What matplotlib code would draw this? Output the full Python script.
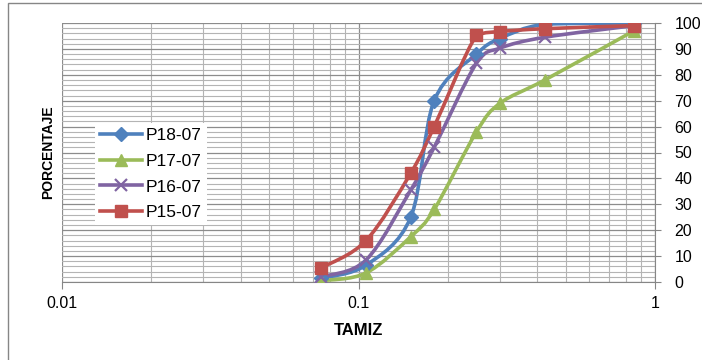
import matplotlib
matplotlib.use("Agg")
import matplotlib.pyplot as plt
import numpy as np
from matplotlib.path import Path
from matplotlib.patches import PathPatch, Rectangle
from matplotlib.lines import Line2D
from matplotlib.ticker import FixedLocator, LogLocator, MultipleLocator, NullFormatter, FuncFormatter

# %% Data (sieve size vs. percent passing).
tamiz = [0.075, 0.106, 0.15, 0.18, 0.25, 0.3, 0.425, 0.85]
p18_07 = [1.5, 6.5, 25, 70, 88, 94, 99.5, 100]
p17_07 = [0.5, 3.5, 17.5, 28, 58, 69, 78, 97]
p16_07 = [2, 8.5, 35.5, 52, 84.5, 90.3, 94.5, 99]
p15_07 = [5.5, 16, 42, 60, 95.3, 96.7, 97.8, 99]

series = [
    ("P18-07", p18_07, "#4F81BD", "D", 7),
    ("P17-07", p17_07, "#9BBB59", "^", 8.5),
    ("P16-07", p16_07, "#8064A2", "x", 8),
    ("P15-07", p15_07, "#C0504D", "s", 8.5),
]

plt.rcParams['font.family'] = ['Liberation Sans', 'DejaVu Sans']


def smooth_path(xs, ys):
    # smoothed line like Excel: cubic Bezier through the points, in log-x space
    lx = np.log10(xs)
    pts = np.column_stack([lx, ys])
    verts = [pts[0]]
    codes = [Path.MOVETO]
    n = len(pts)
    for i in range(n - 1):
        p0 = pts[max(i - 1, 0)]
        p1 = pts[i]
        p2 = pts[i + 1]
        p3 = pts[min(i + 2, n - 1)]
        c1 = p1 + (p2 - p0) / 6
        c2 = p2 - (p3 - p1) / 6
        # keep control points inside the segment's y range (no overshoot)
        lo, hi = min(p1[1], p2[1]), max(p1[1], p2[1])
        c1[1] = np.clip(c1[1], lo, hi)
        c2[1] = np.clip(c2[1], lo, hi)
        verts.extend([c1, c2, p2])
        codes.extend([Path.CURVE4] * 3)
    verts = np.array(verts)
    verts[:, 0] = 10 ** verts[:, 0]
    return Path(verts, codes)


# %% Figure.
fig = plt.figure(figsize=(7.02, 3.60), dpi=100)
ax = fig.add_axes([62 / 702, 1 - 282 / 360, 593 / 702, 259 / 360])

fig.add_artist(Rectangle((8 / 702, -0.5), 2, 0.5 + 1 - 3 / 360, transform=fig.transFigure,
                         fill=False, edgecolor='#868686', linewidth=1.0))

ax.set_xscale('log')
ax.set_xlim(0.01, 1)
ax.set_ylim(0, 100)

handles = []
for name, vals, color, marker, ms in series:
    ax.add_patch(PathPatch(smooth_path(tamiz, vals), facecolor='none', edgecolor=color,
                           linewidth=2.6, zorder=3, capstyle='round', joinstyle='round'))
    mew = 1.6 if marker == 'x' else 1.0
    ax.plot(tamiz, vals, linestyle='none', marker=marker, markersize=ms, color=color,
            markeredgewidth=mew, zorder=4)
    handles.append(Line2D([], [], color=color, linewidth=2.6, marker=marker, markersize=ms,
                          markeredgewidth=mew))

# axes and grid
ax.xaxis.set_major_locator(FixedLocator([0.01, 0.1, 1]))
ax.xaxis.set_major_formatter(FuncFormatter(lambda v, p: f"{v:g}"))
ax.xaxis.set_minor_locator(LogLocator(base=10, subs=np.arange(2, 10)))
ax.xaxis.set_minor_formatter(NullFormatter())
ax.yaxis.set_major_locator(MultipleLocator(10))
ax.yaxis.set_minor_locator(MultipleLocator(2))
ax.yaxis.tick_right()
ax.yaxis.set_label_position('left')

ax.grid(which='major', color='#8c8c8c', linewidth=0.9)
ax.grid(which='minor', color='#b4b4b4', linewidth=0.8)
ax.set_axisbelow(True)

for side in ['top', 'left']:
    ax.spines[side].set_visible(False)
for side in ['bottom', 'right']:
    ax.spines[side].set_color('#868686')

ax.tick_params(which='minor', length=0)
ax.tick_params(axis='x', which='major', direction='out', length=5, color='#868686',
               labelsize=11.5, pad=5)
ax.tick_params(axis='y', which='major', direction='out', length=4, color='#868686',
               labelsize=11.5, pad=10)

ax.set_xlabel('TAMIZ', fontsize=12, fontweight='bold', labelpad=9)
ax.set_ylabel('PORCENTAJE', fontsize=10, fontweight='bold')
ax.yaxis.set_label_coords(-0.012, 0.5)

leg = ax.legend(handles, [s[0] for s in series], loc='upper left',
                bbox_to_anchor=(95 / 702, 1 - 123 / 360), bbox_transform=fig.transFigure,
                borderaxespad=0, frameon=True, fancybox=False, edgecolor='none',
                framealpha=1, fontsize=12.5, handlelength=2.4, labelspacing=0.6,
                handletextpad=0.2, borderpad=0.3)

fig.savefig("out.png", dpi=100)
